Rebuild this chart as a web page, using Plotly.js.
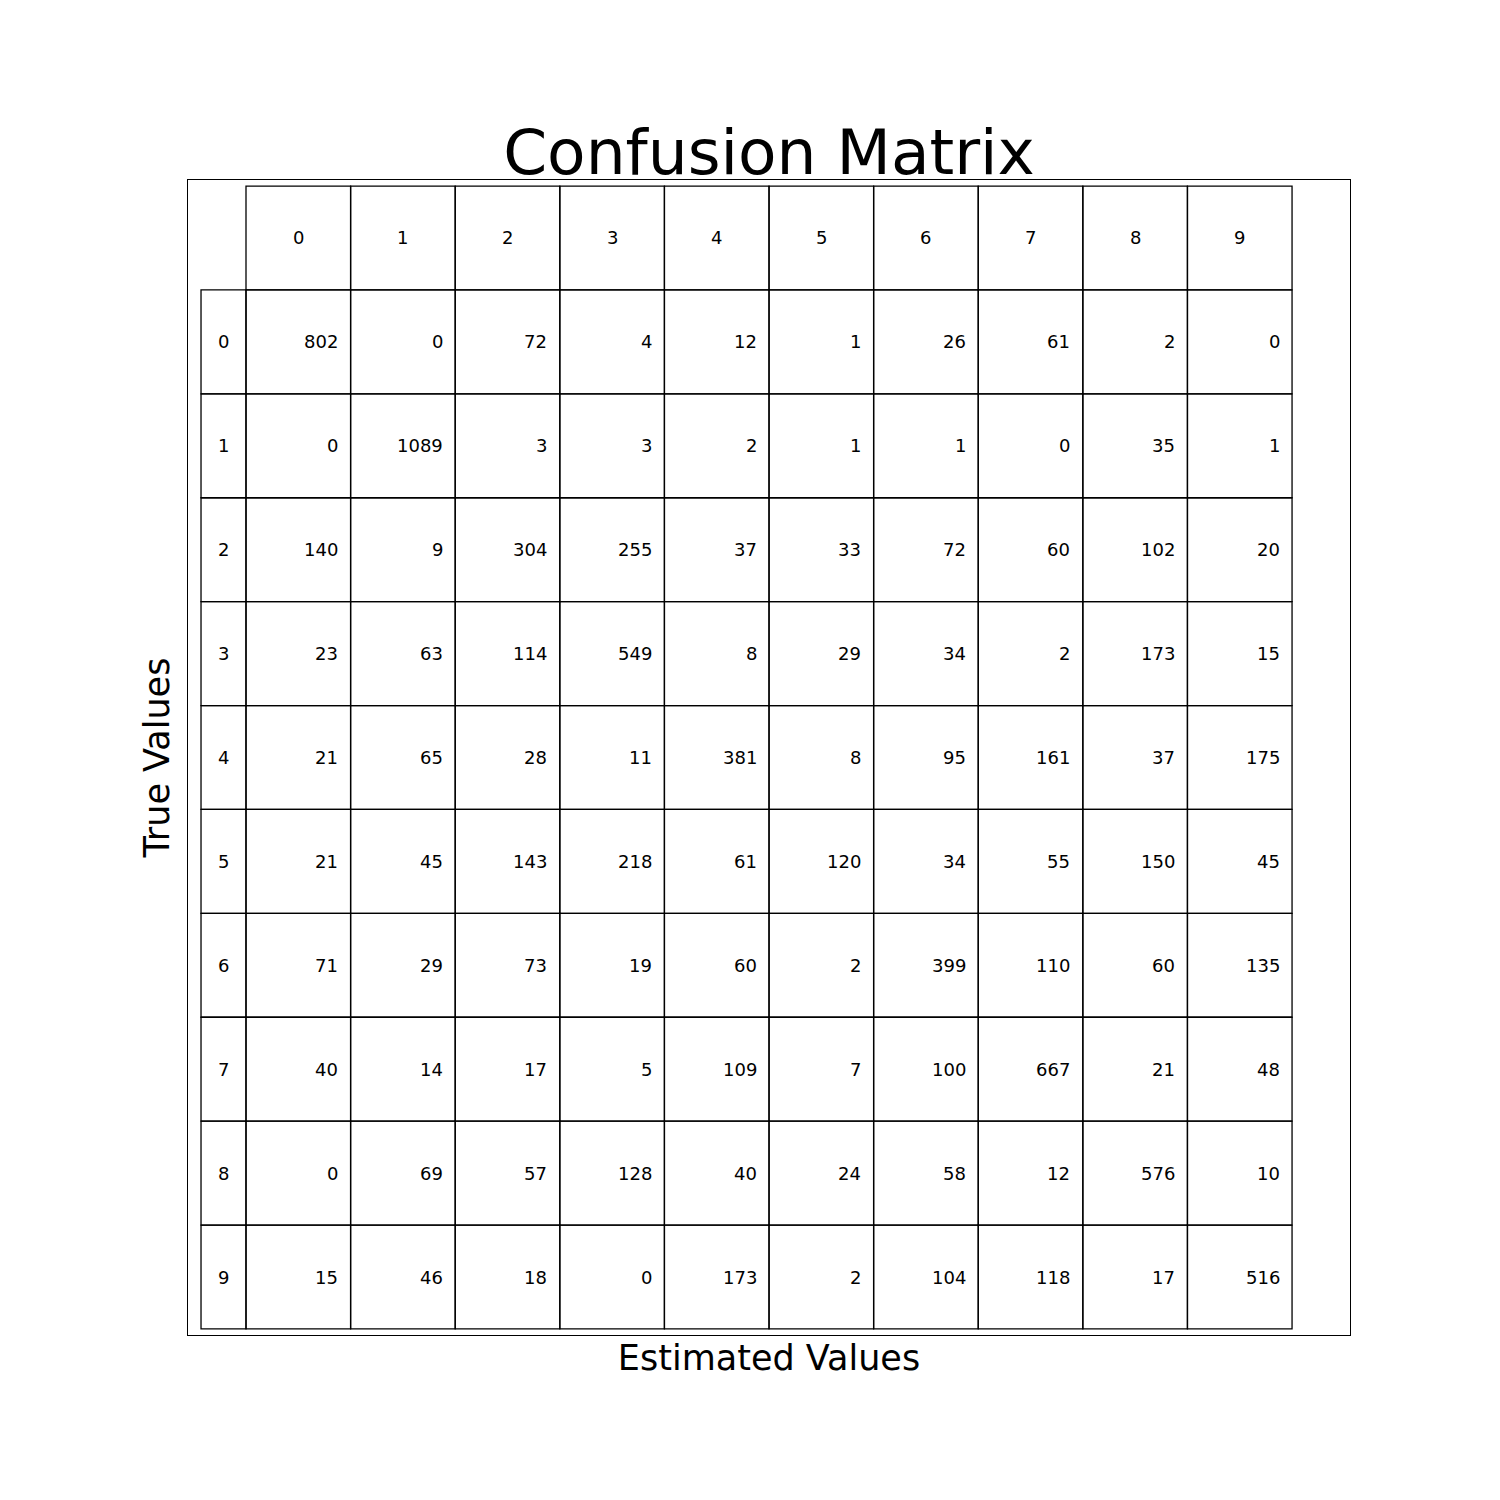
<!DOCTYPE html>
<html><head><meta charset="utf-8">
<script src="https://cdn.plot.ly/plotly-3.0.1.min.js"></script>
<style>body{margin:0}</style></head>
<body><div id="chart" style="width:1500px;height:1500px"></div>
<script>
const estimatedLabels = ["0","1","2","3","4","5","6","7","8","9"];
const trueLabels = ["0","1","2","3","4","5","6","7","8","9"];
const counts = [
 [802,0,72,4,12,1,26,61,2,0],
 [0,1089,3,3,2,1,1,0,35,1],
 [140,9,304,255,37,33,72,60,102,20],
 [23,63,114,549,8,29,34,2,173,15],
 [21,65,28,11,381,8,95,161,37,175],
 [21,45,143,218,61,120,34,55,150,45],
 [71,29,73,19,60,2,399,110,60,135],
 [40,14,17,5,109,7,100,667,21,48],
 [0,69,57,128,40,24,58,12,576,10],
 [15,46,18,0,173,2,104,118,17,516]
];
const HW = 0.43;
const shapes = [], ann = [];
const font = {family:"DejaVu Sans", size:18, color:"#000"};
const line = {color:"#000", width:1.3};
function rect(x0,x1,y0,y1){shapes.push({type:"rect",xref:"x",yref:"y",x0,x1,y0,y1,line,fillcolor:"rgba(0,0,0,0)"});}
estimatedLabels.forEach((c,j)=>{
  rect(j,j+1,-1,0);
  ann.push({x:j+0.5,y:-0.5,xref:"x",yref:"y",text:c,showarrow:false,font,xanchor:"center",yanchor:"middle"});
});
trueLabels.forEach((r,i)=>{
  rect(-HW,0,i,i+1);
  ann.push({x:-HW/2,y:i+0.5,xref:"x",yref:"y",text:r,showarrow:false,font,xanchor:"center",yanchor:"middle"});
  counts[i].forEach((v,j)=>{
    rect(j,j+1,i,i+1);
    ann.push({x:j+0.9,y:i+0.5,xref:"x",yref:"y",text:String(v),showarrow:false,font,xanchor:"right",yanchor:"middle"});
  });
});
Plotly.newPlot("chart",[{type:"scatter",x:[],y:[],hoverinfo:"skip"}],{
  width:1500,height:1500,
  margin:{l:188,r:150,t:180,b:165},
  paper_bgcolor:"#fff",plot_bgcolor:"#fff",showlegend:false,
  title:{text:"Confusion Matrix",font:{family:"DejaVu Sans",size:63,color:"#000"},x:0.5,xref:"paper",xanchor:"center",y:1-152/1500,yanchor:"middle"},
  xaxis:{range:[-0.5545,10.554],showgrid:false,zeroline:false,showticklabels:false,ticks:"",showline:true,mirror:true,linecolor:"#000",linewidth:1,
    title:{text:"Estimated Values",font:{family:"DejaVu Sans",size:35,color:"#000"},standoff:10}},
  yaxis:{range:[10.058,-1.058],showgrid:false,zeroline:false,showticklabels:false,ticks:"",showline:true,mirror:true,linecolor:"#000",linewidth:1,
    title:{text:"True Values",font:{family:"DejaVu Sans",size:35,color:"#000"},standoff:6}},
  shapes,annotations:ann
},{staticPlot:true});
</script></body></html>
